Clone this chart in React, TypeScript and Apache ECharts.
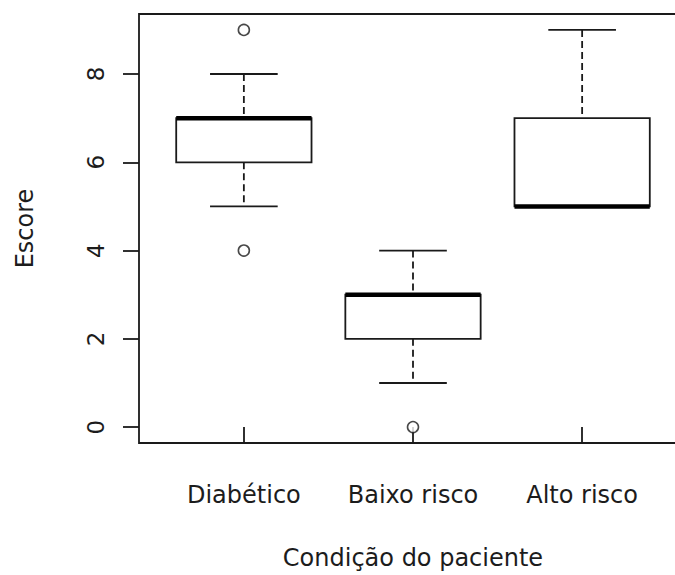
import React, { useEffect, useRef } from "react";
import * as echarts from "echarts";

const categories = ["Diabético", "Baixo risco", "Alto risco"];
const whiskerLow = [5, 1, 5];
const q1 = [6, 2, 5];
const median = [7, 3, 5];
const q3 = [7, 3, 7];
const whiskerHigh = [8, 4, 9];
const outliers: [number, number][] = [
  [1, 9],
  [1, 4],
  [2, 0],
];
const yTicks = [0, 2, 4, 6, 8];
const xTicks = [1, 2, 3];

const INK = "#1a1a1a";
const TEXT = "#1c1c1c";
const FONT = "DejaVu Sans";

export default function App() {
  const ref = useRef<HTMLDivElement>(null);
  useEffect(() => {
    if (!ref.current) return;
    const chart = echarts.init(ref.current, undefined, { renderer: "svg" });
    const boxData = categories.map((_, i) => [
      i + 1,
      whiskerLow[i],
      q1[i],
      median[i],
      q3[i],
      whiskerHigh[i],
    ]);
    chart.setOption({
      animation: false,
      backgroundColor: "#ffffff",
      grid: {
        left: 139,
        top: 14,
        right: 13,
        bottom: 126,
        show: true,
        borderColor: INK,
        borderWidth: 1.8,
        backgroundColor: "transparent",
      },
      xAxis: {
        type: "value",
        min: 0.38,
        max: 3.62,
        name: "Condição do paciente",
        nameLocation: "middle",
        nameGap: 103,
        nameTextStyle: { fontSize: 24, fontFamily: FONT, color: TEXT },
        axisLine: { show: false },
        splitLine: { show: false },
        axisTick: {
          show: true,
          length: 16,
          customValues: xTicks,
          lineStyle: { color: INK, width: 1.8 },
        },
        axisLabel: {
          customValues: xTicks,
          margin: 40,
          fontSize: 24,
          fontFamily: FONT,
          color: TEXT,
          formatter: (v: number) => categories[Math.round(v) - 1] ?? "",
        },
      },
      yAxis: {
        type: "value",
        min: -0.36,
        max: 9.36,
        name: "Escore",
        nameLocation: "middle",
        nameGap: 102,
        nameRotate: 90,
        nameTextStyle: { fontSize: 24, fontFamily: FONT, color: TEXT },
        axisLine: { show: false },
        splitLine: { show: false },
        axisTick: {
          show: true,
          length: 16,
          customValues: yTicks,
          lineStyle: { color: INK, width: 1.8 },
        },
        axisLabel: {
          customValues: yTicks,
          rotate: 90,
          margin: 32,
          fontSize: 23,
          fontFamily: FONT,
          color: TEXT,
        },
      },
      series: [
        {
          type: "custom",
          data: boxData,
          encode: { x: 0, y: [1, 2, 3, 4, 5] },
          renderItem: (params: any, api: any) => {
            const x = api.value(0);
            const lo = api.value(1);
            const b1 = api.value(2);
            const md = api.value(3);
            const b3 = api.value(4);
            const hi = api.value(5);
            const cx = api.coord([x, md])[0];
            const yLo = api.coord([x, lo])[1];
            const yQ1 = api.coord([x, b1])[1];
            const yMd = api.coord([x, md])[1];
            const yQ3 = api.coord([x, b3])[1];
            const yHi = api.coord([x, hi])[1];
            const halfBox = api.size([0.4, 0])[0];
            const capHalf = api.size([0.2, 0])[0];
            const dash = { stroke: INK, lineWidth: 1.8, lineDash: [7, 4], fill: null };
            const solid = { stroke: INK, lineWidth: 1.8, fill: null };
            return {
              type: "group",
              children: [
                { type: "line", shape: { x1: cx, y1: yHi, x2: cx, y2: yQ3 }, style: dash },
                { type: "line", shape: { x1: cx, y1: yQ1, x2: cx, y2: yLo }, style: dash },
                { type: "line", shape: { x1: cx - capHalf, y1: yHi, x2: cx + capHalf, y2: yHi }, style: solid },
                { type: "line", shape: { x1: cx - capHalf, y1: yLo, x2: cx + capHalf, y2: yLo }, style: solid },
                {
                  type: "rect",
                  shape: { x: cx - halfBox, y: yQ3, width: halfBox * 2, height: yQ1 - yQ3 },
                  style: { fill: "#ffffff", stroke: INK, lineWidth: 1.8 },
                },
                {
                  type: "line",
                  shape: { x1: cx - halfBox, y1: yMd, x2: cx + halfBox, y2: yMd },
                  style: { stroke: "#000", lineWidth: 4.5 },
                },
              ],
            };
          },
        },
        {
          type: "scatter",
          data: outliers,
          symbol: "circle",
          symbolSize: 11,
          itemStyle: { color: "#ffffff", borderColor: INK, borderWidth: 1.6 },
          z: 5,
        },
      ],
    });
    return () => chart.dispose();
  }, []);
  return (
    <div
      style={{
        position: "fixed",
        left: 0,
        top: 0,
        width: 675,
        height: 575,
        overflow: "hidden",
        background: "#fff",
      }}
    >
      <div ref={ref} style={{ width: 700, height: 575 }} />
    </div>
  );
}
